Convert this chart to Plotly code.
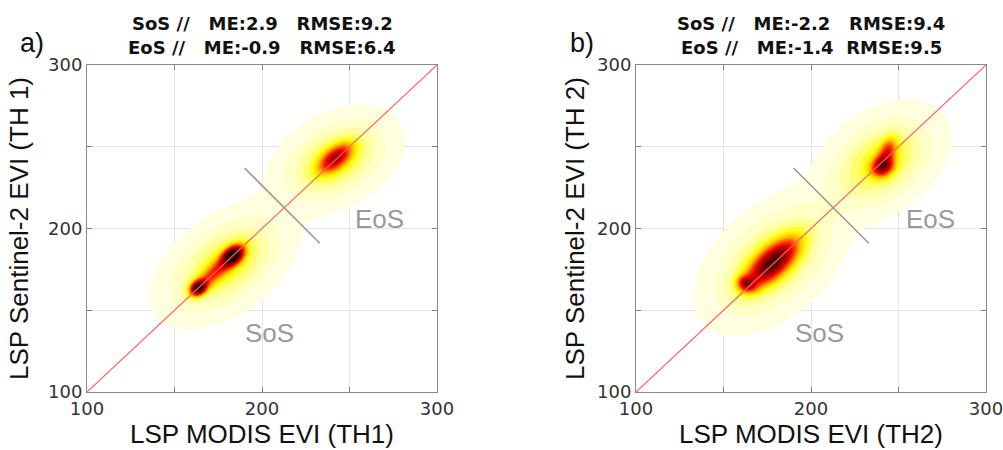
import numpy as np
import plotly.graph_objects as go

# ---------------- data ----------------
axis_range = [100, 300]
tick_vals = [100, 150, 200, 250, 300]
tick_text = ["100", "", "200", "", "300"]

# density components: [cx, cy, sigma_along, sigma_across, angle_deg, amplitude]
sos_a = [[179, 178, 22, 13, 40, 0.28],
         [163.5, 163.5, 3.5, 2.8, 45, 0.75],
         [183.5, 183.5, 4.8, 3.2, 45, 0.80],
         [173, 173, 11, 3.5, 45, 0.30]]
eos_a = [[242, 242, 19, 12.5, 33, 0.28],
         [242, 243, 8, 4.0, 42, 0.45]]
sos_b = [[178, 180, 24, 14.5, 46, 0.28],
         [178, 179, 13, 5.5, 45, 0.62],
         [163, 166, 3.2, 3.8, 60, 0.40]]
eos_b = [[240, 241, 20, 13.5, 40, 0.28],
         [241, 238, 4.5, 3.8, 45, 0.55],
         [244, 248, 5.5, 3.2, 70, 0.30]]

one_to_one = [100, 300]
sep_x = [190, 233]
sep_y = [237, 191]

NB = "\u00a0"
titles_a = ["SoS //" + NB * 3 + "ME:2.9" + NB * 3 + "RMSE:9.2",
            "EoS //" + NB * 3 + "ME:-0.9" + NB * 3 + "RMSE:6.4"]
titles_b = ["SoS //" + NB * 3 + "ME:-2.2" + NB * 3 + "RMSE:9.4",
            "EoS //" + NB * 3 + "ME:-1.4" + NB * 2 + "RMSE:9.5"]
x_titles = ["LSP MODIS EVI (TH1)", "LSP MODIS EVI (TH2)"]
y_titles = ["LSP Sentinel-2 EVI (TH 1)", "LSP Sentinel-2 EVI (TH 2)"]
panel_labels = ["a)", "b)"]
label_eos = [(267, 206), (268, 206)]
label_sos = [(204, 136), (205, 136)]

# ---------------- density grid ----------------
gx = np.linspace(100, 300, 401)
gy = np.linspace(100, 300, 401)
X, Y = np.meshgrid(gx, gy)


def density(comps):
    z = np.zeros_like(X)
    for cx, cy, sl, sw, ang, amp in comps:
        t = np.radians(ang)
        dx, dy = X - cx, Y - cy
        u = dx * np.cos(t) + dy * np.sin(t)
        v = -dx * np.sin(t) + dy * np.cos(t)
        z += amp * np.exp(-0.5 * (u ** 2 / sl ** 2 + v ** 2 / sw ** 2))
    return z


za = density(sos_a) + density(eos_a)
zb = density(sos_b) + density(eos_b)

hot_r = [
    [0.0, "rgba(255,255,255,0)"],
    [0.019, "rgba(255,255,255,0)"],
    [0.02, "#ffffe2"],
    [0.07, "#ffffcc"],
    [0.12, "#ffffae"],
    [0.17, "#ffff86"],
    [0.22, "#ffff48"],
    [0.27, "#ffff00"],
    [0.40, "#ffa800"],
    [0.52, "#ff3000"],
    [0.62, "#e00000"],
    [0.80, "#800000"],
    [1.0, "#200000"],
]

fig = go.Figure()
for i, z in enumerate([za, zb]):
    xa = "x" if i == 0 else "x2"
    ya = "y" if i == 0 else "y2"
    fig.add_trace(go.Contour(
        x=gx, y=gy, z=z, xaxis=xa, yaxis=ya,
        colorscale=hot_r, zmin=0, zmax=1, zauto=False,
        contours=dict(start=0.02, end=1.0, size=0.05, coloring="fill", showlines=False),
        line=dict(width=0), showscale=False, hoverinfo="skip",
    ))
    fig.add_trace(go.Scatter(x=one_to_one, y=one_to_one, xaxis=xa, yaxis=ya, mode="lines",
                             line=dict(color="#ff6060", width=1.2), showlegend=False, hoverinfo="skip"))
    fig.add_trace(go.Scatter(x=sep_x, y=sep_y, xaxis=xa, yaxis=ya, mode="lines",
                             line=dict(color="#9a9a9a", width=1.6), showlegend=False, hoverinfo="skip"))

W, H = 1003, 450
T, B = 65, 58
dom_a = [87 / W, 437 / W]
dom_b = [636 / W, 986 / W]

axis_common = dict(
    range=axis_range, tickmode="array", tickvals=tick_vals, ticktext=tick_text,
    showgrid=True, gridcolor="#e4e4e4", gridwidth=1,
    ticks="inside", ticklen=5, tickcolor="#808080",
    showline=True, linecolor="#8a8a8a", linewidth=1, mirror="ticks",
    zeroline=False, tickfont=dict(family="DejaVu Sans", size=18, color="#333333"),
    ticklabeloverflow="allow",
    automargin=False, fixedrange=True,
)
tfont = dict(family="Liberation Sans", size=26, color="#111")

fig.update_layout(
    width=W, height=H, margin=dict(l=0, r=0, t=T, b=B),
    paper_bgcolor="white", plot_bgcolor="white", showlegend=False,
    xaxis=dict(domain=dom_a, anchor="y", title=dict(text=x_titles[0], standoff=3, font=tfont), **axis_common),
    yaxis=dict(domain=[0, 1], anchor="x", title=dict(text=y_titles[0], standoff=11, font=tfont), **axis_common),
    xaxis2=dict(domain=dom_b, anchor="y2", title=dict(text=x_titles[1], standoff=3, font=tfont), **axis_common),
    yaxis2=dict(domain=[0, 1], anchor="x2", title=dict(text=y_titles[1], standoff=4, font=tfont), **axis_common),
)


def py(px):
    return (H - B - px) / (H - T - B)


anns = []
for i, (titles, dom) in enumerate([(titles_a, dom_a), (titles_b, dom_b)]):
    cx = (dom[0] + dom[1]) / 2
    for j, t in enumerate(titles):
        anns.append(dict(text="<b>" + t + "</b>", x=cx, y=py(23 + 24 * j), xref="paper", yref="paper",
                         xanchor="center", yanchor="middle", showarrow=False,
                         font=dict(family="DejaVu Sans", size=18, color="#111")))
    anns.append(dict(text=panel_labels[i], x=(32 if i == 0 else 582) / W, y=py(43), xref="paper", yref="paper",
                     xanchor="center", yanchor="middle", showarrow=False,
                     font=dict(family="Liberation Sans", size=27, color="#111")))
    xr = "x" if i == 0 else "x2"
    yr = "y" if i == 0 else "y2"
    lf = dict(family="Liberation Sans", size=26, color="#9a9a9a")
    anns.append(dict(text="EoS", x=label_eos[i][0], y=label_eos[i][1], xref=xr, yref=yr, showarrow=False,
                     xanchor="center", yanchor="middle", font=lf))
    anns.append(dict(text="SoS", x=label_sos[i][0], y=label_sos[i][1], xref=xr, yref=yr, showarrow=False,
                     xanchor="center", yanchor="middle", font=lf))
fig.update_layout(annotations=anns)

fig.write_html("out.html")
